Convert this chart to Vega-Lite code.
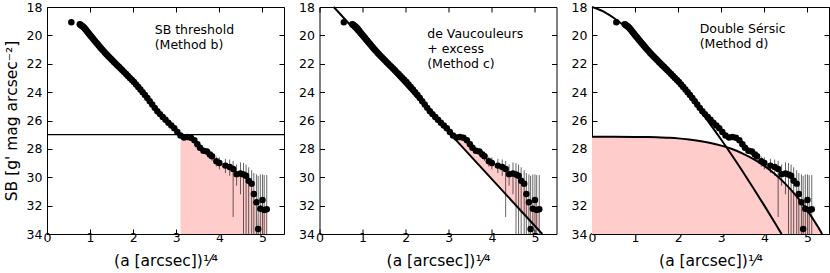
{
  "$schema": "https://vega.github.io/schema/vega-lite/v6.json",
  "padding": {"left": 3, "top": 0, "right": 0, "bottom": 0},
  "spacing": 35.5,
  "bounds": "flush",
  "config": {
    "font": "DejaVu Sans",
    "view": {"stroke": "black", "strokeWidth": 1},
    "axis": {"grid": false, "domain": false, "tickColor": "black", "tickSize": -5, "tickWidth": 1, "labelColor": "black", "labelFontSize": 12.5, "labelFont": "DejaVu Sans", "titleFont": "DejaVu Sans", "titleFontSize": 15.5, "titleFontWeight": "normal", "titleColor": "black", "labelFlush": false, "labelOverlap": false},
    "axisX": {"labelPadding": 2.5, "titlePadding": 9},
    "axisY": {"labelPadding": 10, "titlePadding": 7}
  },
  "datasets": {
    "prof": [
      {"x": 0.565, "y": 19.08},
      {"x": 0.760, "y": 19.22}, {"x": 0.778, "y": 19.25}, {"x": 0.797, "y": 19.30}, {"x": 0.817, "y": 19.34}, {"x": 0.836, "y": 19.39},
      {"x": 0.856, "y": 19.44}, {"x": 0.877, "y": 19.51}, {"x": 0.898, "y": 19.59}, {"x": 0.920, "y": 19.67}, {"x": 0.942, "y": 19.76},
      {"x": 0.965, "y": 19.85}, {"x": 0.988, "y": 19.93}, {"x": 1.012, "y": 20.02}, {"x": 1.036, "y": 20.11}, {"x": 1.061, "y": 20.20},
      {"x": 1.087, "y": 20.30}, {"x": 1.113, "y": 20.40}, {"x": 1.140, "y": 20.50}, {"x": 1.167, "y": 20.59}, {"x": 1.195, "y": 20.70},
      {"x": 1.224, "y": 20.80}, {"x": 1.253, "y": 20.90}, {"x": 1.284, "y": 21.01}, {"x": 1.315, "y": 21.11}, {"x": 1.346, "y": 21.22},
      {"x": 1.379, "y": 21.33}, {"x": 1.412, "y": 21.44}, {"x": 1.446, "y": 21.54}, {"x": 1.481, "y": 21.65}, {"x": 1.516, "y": 21.76},
      {"x": 1.553, "y": 21.87}, {"x": 1.590, "y": 21.98}, {"x": 1.629, "y": 22.10}, {"x": 1.668, "y": 22.21}, {"x": 1.708, "y": 22.33},
      {"x": 1.749, "y": 22.46}, {"x": 1.791, "y": 22.59}, {"x": 1.835, "y": 22.72}, {"x": 1.879, "y": 22.86}, {"x": 1.924, "y": 23.00},
      {"x": 1.971, "y": 23.14}, {"x": 2.018, "y": 23.29}, {"x": 2.067, "y": 23.46}, {"x": 2.117, "y": 23.63}, {"x": 2.168, "y": 23.81},
      {"x": 2.220, "y": 24.00}, {"x": 2.273, "y": 24.20}, {"x": 2.328, "y": 24.42}, {"x": 2.384, "y": 24.64}, {"x": 2.442, "y": 24.87},
      {"x": 2.500, "y": 25.11}, {"x": 2.561, "y": 25.34}, {"x": 2.622, "y": 25.55}, {"x": 2.686, "y": 25.76}, {"x": 2.750, "y": 25.95},
      {"x": 2.817, "y": 26.16}, {"x": 2.885, "y": 26.36}, {"x": 2.954, "y": 26.55}, {"x": 3.025, "y": 26.81},
      {"x": 3.098, "y": 27.05, "dv": 27.16},
      {"x": 3.18, "y": 27.20, "lo": 27.10, "hi": 27.30, "dv": 27.43},
      {"x": 3.26, "y": 27.17, "lo": 27.05, "hi": 27.30, "dv": 27.70},
      {"x": 3.34, "y": 27.22, "lo": 27.08, "hi": 27.38, "dv": 27.96},
      {"x": 3.42, "y": 27.40, "lo": 27.25, "hi": 27.55, "dv": 28.23},
      {"x": 3.49, "y": 27.68, "lo": 27.50, "hi": 27.85, "dv": 28.46},
      {"x": 3.55, "y": 27.92, "lo": 27.72, "hi": 28.10, "dv": 28.66},
      {"x": 3.63, "y": 28.13, "lo": 27.90, "hi": 28.35, "dv": 28.92},
      {"x": 3.71, "y": 28.18, "lo": 27.95, "hi": 28.45, "dv": 29.19},
      {"x": 3.78, "y": 28.40, "lo": 28.10, "hi": 28.70, "dv": 29.42},
      {"x": 3.83, "y": 28.52, "lo": 28.20, "hi": 28.85, "dv": 29.59},
      {"x": 3.93, "y": 28.88, "lo": 28.55, "hi": 29.25, "dv": 29.92},
      {"x": 4.00, "y": 29.00, "lo": 28.60, "hi": 29.45, "dv": 30.15},
      {"x": 4.14, "y": 29.18, "lo": 28.70, "hi": 29.70, "dv": 30.61},
      {"x": 4.24, "y": 29.28, "lo": 28.75, "hi": 29.90, "dv": 30.94},
      {"x": 4.32, "y": 29.42, "lo": 28.85, "hi": 32.80, "dv": 31.21},
      {"x": 4.40, "y": 29.78, "lo": 29.10, "hi": 30.60, "dv": 31.47},
      {"x": 4.49, "y": 29.73, "lo": 28.95, "hi": 31.20, "dv": 31.77},
      {"x": 4.56, "y": 29.80, "lo": 29.00, "hi": 34.00, "dv": 32.00},
      {"x": 4.62, "y": 29.90, "lo": 29.10, "hi": 34.00, "dv": 32.20},
      {"x": 4.68, "y": 30.25, "lo": 29.30, "hi": 34.00, "dv": 32.40},
      {"x": 4.75, "y": 30.45, "lo": 29.50, "hi": 34.00, "dv": 32.63},
      {"x": 4.80, "y": 31.18, "lo": 29.70, "hi": 34.00, "dv": 32.80},
      {"x": 4.86, "y": 31.77, "lo": 29.80, "hi": 34.00, "dv": 32.99},
      {"x": 4.90, "y": 33.65, "lo": 29.90, "hi": 34.00, "dv": 33.13},
      {"x": 4.95, "y": 32.22, "lo": 29.80, "hi": 34.00, "dv": 33.29},
      {"x": 5.00, "y": 31.60, "lo": 29.80, "hi": 34.00, "dv": 33.46},
      {"x": 5.04, "y": 32.30, "lo": 29.85, "hi": 34.00, "dv": 33.59},
      {"x": 5.10, "y": 32.25, "lo": 29.85, "hi": 34.00, "dv": 33.79}
    ],
    "devauc": [{"x": 0.33, "m": 18.0}, {"x": 5.17, "m": 34.0}],
    "inner": [
      {"x": 0.0, "m": 18.00}, {"x": 0.25, "m": 18.29}, {"x": 0.5, "m": 18.76}, {"x": 0.75, "m": 19.34}, {"x": 1.0, "m": 20.01},
      {"x": 1.25, "m": 20.75}, {"x": 1.5, "m": 21.55}, {"x": 1.75, "m": 22.40}, {"x": 2.0, "m": 23.30}, {"x": 2.25, "m": 24.26},
      {"x": 2.5, "m": 25.25}, {"x": 2.75, "m": 26.29}, {"x": 3.0, "m": 27.36}, {"x": 3.25, "m": 28.47}, {"x": 3.5, "m": 29.61},
      {"x": 3.75, "m": 30.79}, {"x": 4.0, "m": 32.00}, {"x": 4.25, "m": 33.24}, {"x": 4.40, "m": 34.00}
    ],
    "outer": [
      {"x": 0.0, "m": 27.15}, {"x": 0.5, "m": 27.15}, {"x": 1.0, "m": 27.156}, {"x": 1.25, "m": 27.166}, {"x": 1.5, "m": 27.18},
      {"x": 1.75, "m": 27.215}, {"x": 2.0, "m": 27.26}, {"x": 2.25, "m": 27.336}, {"x": 2.5, "m": 27.44}, {"x": 2.75, "m": 27.58},
      {"x": 3.0, "m": 27.77}, {"x": 3.25, "m": 28.01}, {"x": 3.5, "m": 28.33}, {"x": 3.75, "m": 28.72}, {"x": 4.0, "m": 29.20},
      {"x": 4.25, "m": 29.79}, {"x": 4.5, "m": 30.50}, {"x": 4.75, "m": 31.35}, {"x": 5.0, "m": 32.35}, {"x": 5.25, "m": 33.53},
      {"x": 5.34, "m": 34.0}
    ]
  },
  "hconcat": [
    {
      "width": 237, "height": 227,
      "resolve": {"axis": {"x": "independent", "y": "independent"}},
      "layer": [
        {
          "data": {"name": "prof"},
          "transform": [{"filter": "datum.x >= 3.09"}],
          "mark": {"type": "area", "color": "#ffcccc", "opacity": 1},
          "encoding": {
            "x": {"field": "x", "type": "quantitative", "scale": {"domain": [0, 5.5], "nice": false, "zero": false}, "axis": {"orient": "bottom", "values": [0, 1, 2, 3, 4, 5], "title": "(a [arcsec])¹⁄⁴"}},
            "y": {"field": "y", "type": "quantitative", "scale": {"domain": [18, 34], "reverse": true, "nice": false, "zero": false}, "axis": {"orient": "left", "values": [18, 20, 22, 24, 26, 28, 30, 32, 34], "title": "SB [g' mag arcsec⁻²]"}},
            "y2": {"datum": 34}
          }
        },
        {
          "data": {"values": [{"v": 27}]},
          "mark": {"type": "rule", "color": "black", "strokeWidth": 1.2},
          "encoding": {"y": {"field": "v", "type": "quantitative", "axis": null}}
        },
        {
          "data": {"name": "prof"},
          "transform": [{"filter": "isValid(datum.lo)"}],
          "mark": {"type": "rule", "color": "black", "opacity": 0.6, "strokeWidth": 1},
          "encoding": {"x": {"field": "x", "type": "quantitative", "axis": null}, "y": {"field": "lo", "type": "quantitative", "axis": null}, "y2": {"field": "hi"}}
        },
        {
          "data": {"name": "prof"},
          "mark": {"type": "circle", "color": "black", "opacity": 1, "size": 42},
          "encoding": {"x": {"field": "x", "type": "quantitative", "axis": null}, "y": {"field": "y", "type": "quantitative", "axis": null}}
        },
        {
          "data": {"values": [{"x": 2.5, "y": 19.62, "t": "SB threshold"}, {"x": 2.5, "y": 20.68, "t": "(Method b)"}]},
          "mark": {"type": "text", "align": "left", "baseline": "middle", "fontSize": 12.5, "color": "black"},
          "encoding": {"x": {"field": "x", "type": "quantitative", "axis": null}, "y": {"field": "y", "type": "quantitative", "axis": null}, "text": {"field": "t"}}
        },
        {
          "data": {"values": [{"x": 0, "y": 18}]},
          "mark": {"type": "point", "opacity": 0},
          "encoding": {
            "x": {"field": "x", "type": "quantitative", "axis": {"orient": "top", "values": [0, 1, 2, 3, 4, 5], "labels": false, "title": null}},
            "y": {"field": "y", "type": "quantitative", "axis": {"orient": "right", "values": [18, 20, 22, 24, 26, 28, 30, 32, 34], "labels": false, "title": null}}
          }
        }
      ]
    },
    {
      "width": 237, "height": 227,
      "resolve": {"axis": {"x": "independent", "y": "independent"}},
      "layer": [
        {
          "data": {"name": "prof"},
          "transform": [{"filter": "isValid(datum.dv)"}],
          "mark": {"type": "area", "color": "#ffcccc", "opacity": 1},
          "encoding": {
            "x": {"field": "x", "type": "quantitative", "scale": {"domain": [0, 5.5], "nice": false, "zero": false}, "axis": {"orient": "bottom", "values": [0, 1, 2, 3, 4, 5], "title": "(a [arcsec])¹⁄⁴"}},
            "y": {"field": "y", "type": "quantitative", "scale": {"domain": [18, 34], "reverse": true, "nice": false, "zero": false}, "axis": {"orient": "left", "values": [18, 20, 22, 24, 26, 28, 30, 32, 34], "title": null}},
            "y2": {"field": "dv"}
          }
        },
        {
          "data": {"name": "prof"},
          "transform": [{"filter": "isValid(datum.lo)"}],
          "mark": {"type": "rule", "color": "black", "opacity": 0.6, "strokeWidth": 1},
          "encoding": {"x": {"field": "x", "type": "quantitative", "axis": null}, "y": {"field": "lo", "type": "quantitative", "axis": null}, "y2": {"field": "hi"}}
        },
        {
          "data": {"name": "prof"},
          "mark": {"type": "circle", "color": "black", "opacity": 1, "size": 42},
          "encoding": {"x": {"field": "x", "type": "quantitative", "axis": null}, "y": {"field": "y", "type": "quantitative", "axis": null}}
        },
        {
          "data": {"name": "devauc"},
          "mark": {"type": "line", "color": "black", "strokeWidth": 2},
          "encoding": {"x": {"field": "x", "type": "quantitative", "axis": null}, "y": {"field": "m", "type": "quantitative", "axis": null}}
        },
        {
          "data": {"values": [{"x": 2.5, "y": 19.9, "t": "de Vaucouleurs"}, {"x": 2.5, "y": 20.96, "t": "+ excess"}, {"x": 2.5, "y": 22.02, "t": "(Method c)"}]},
          "mark": {"type": "text", "align": "left", "baseline": "middle", "fontSize": 12.5, "color": "black"},
          "encoding": {"x": {"field": "x", "type": "quantitative", "axis": null}, "y": {"field": "y", "type": "quantitative", "axis": null}, "text": {"field": "t"}}
        },
        {
          "data": {"values": [{"x": 0, "y": 18}]},
          "mark": {"type": "point", "opacity": 0},
          "encoding": {
            "x": {"field": "x", "type": "quantitative", "axis": {"orient": "top", "values": [0, 1, 2, 3, 4, 5], "labels": false, "title": null}},
            "y": {"field": "y", "type": "quantitative", "axis": {"orient": "right", "values": [18, 20, 22, 24, 26, 28, 30, 32, 34], "labels": false, "title": null}}
          }
        }
      ]
    },
    {
      "width": 237, "height": 227,
      "resolve": {"axis": {"x": "independent", "y": "independent"}},
      "layer": [
        {
          "data": {"name": "outer"},
          "mark": {"type": "area", "color": "#ffcccc", "interpolate": "monotone"},
          "encoding": {
            "x": {"field": "x", "type": "quantitative", "scale": {"domain": [0, 5.5], "nice": false, "zero": false}, "axis": {"orient": "bottom", "values": [0, 1, 2, 3, 4, 5], "title": "(a [arcsec])¹⁄⁴"}},
            "y": {"field": "m", "type": "quantitative", "scale": {"domain": [18, 34], "reverse": true, "nice": false, "zero": false}, "axis": {"orient": "left", "values": [18, 20, 22, 24, 26, 28, 30, 32, 34], "title": null}},
            "y2": {"datum": 34}
          }
        },
        {
          "data": {"name": "prof"},
          "transform": [{"filter": "isValid(datum.lo)"}],
          "mark": {"type": "rule", "color": "black", "opacity": 0.6, "strokeWidth": 1},
          "encoding": {"x": {"field": "x", "type": "quantitative", "axis": null}, "y": {"field": "lo", "type": "quantitative", "axis": null}, "y2": {"field": "hi"}}
        },
        {
          "data": {"name": "prof"},
          "mark": {"type": "circle", "color": "black", "opacity": 1, "size": 42},
          "encoding": {"x": {"field": "x", "type": "quantitative", "axis": null}, "y": {"field": "y", "type": "quantitative", "axis": null}}
        },
        {
          "data": {"name": "inner"},
          "mark": {"type": "line", "color": "black", "strokeWidth": 2, "interpolate": "monotone"},
          "encoding": {"x": {"field": "x", "type": "quantitative", "axis": null}, "y": {"field": "m", "type": "quantitative", "axis": null}}
        },
        {
          "data": {"name": "outer"},
          "mark": {"type": "line", "color": "black", "strokeWidth": 2, "interpolate": "monotone"},
          "encoding": {"x": {"field": "x", "type": "quantitative", "axis": null}, "y": {"field": "m", "type": "quantitative", "axis": null}}
        },
        {
          "data": {"values": [{"x": 2.5, "y": 19.57, "t": "Double Sérsic"}, {"x": 2.5, "y": 20.63, "t": "(Method d)"}]},
          "mark": {"type": "text", "align": "left", "baseline": "middle", "fontSize": 12.5, "color": "black"},
          "encoding": {"x": {"field": "x", "type": "quantitative", "axis": null}, "y": {"field": "y", "type": "quantitative", "axis": null}, "text": {"field": "t"}}
        },
        {
          "data": {"values": [{"x": 0, "y": 18}]},
          "mark": {"type": "point", "opacity": 0},
          "encoding": {
            "x": {"field": "x", "type": "quantitative", "axis": {"orient": "top", "values": [0, 1, 2, 3, 4, 5], "labels": false, "title": null}},
            "y": {"field": "y", "type": "quantitative", "axis": {"orient": "right", "values": [18, 20, 22, 24, 26, 28, 30, 32, 34], "labels": false, "title": null}}
          }
        }
      ]
    }
  ]
}
